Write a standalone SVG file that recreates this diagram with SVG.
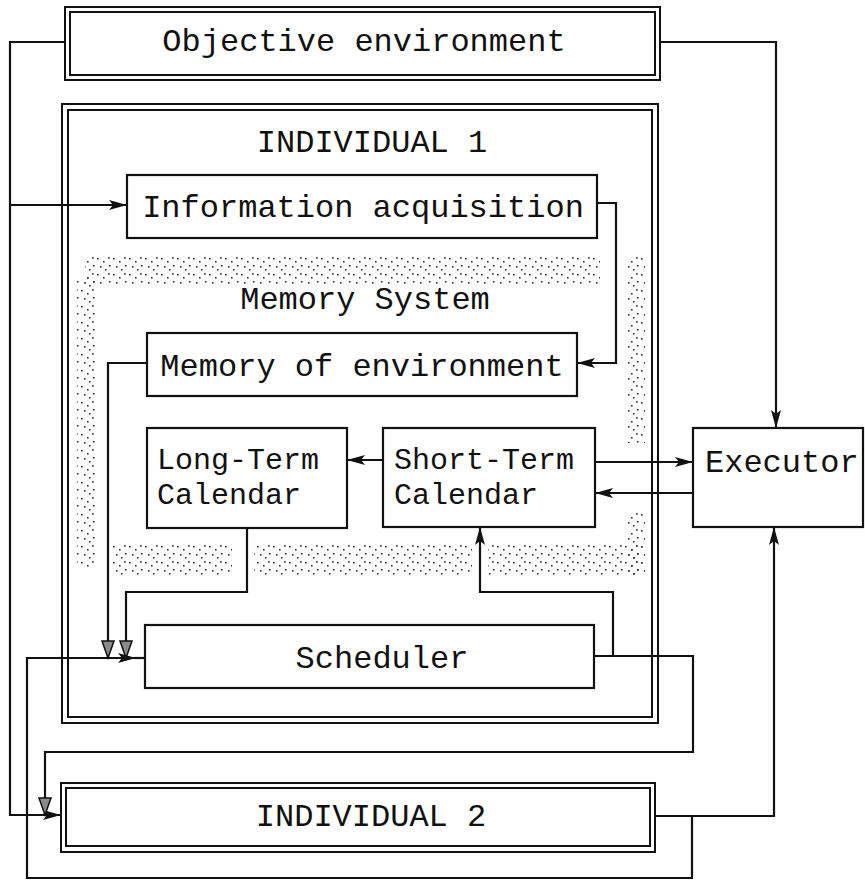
<svg xmlns="http://www.w3.org/2000/svg" width="865" height="881" viewBox="0 0 865 881">
<style>
  .box { fill: #fff; stroke: #111; stroke-width: 2.2; }
  .dbl { fill: none; stroke: #111; stroke-width: 2; }
  .lbl { font-family: "Liberation Mono", "Courier New", monospace; font-size: 32px; fill: #111; }
  .sm { font-size: 30px; }
  .c { text-anchor: middle; }
  .wire { fill: none; stroke: #111; stroke-width: 2.2; }
</style>
<defs>
  <marker id="ah" markerUnits="userSpaceOnUse" markerWidth="20" markerHeight="12" refX="18" refY="6" orient="auto">
    <path d="M0,1 L18,6 L0,11 L4,6 z" fill="#111"/>
  </marker>
  <marker id="ahh" markerUnits="userSpaceOnUse" markerWidth="20" markerHeight="14" refX="18" refY="7" orient="auto">
    <path d="M1,1 L18,7 L1,13 z" fill="#8a8a8a" stroke="#111" stroke-width="1.5"/>
  </marker>
  <pattern id="dots" width="16" height="16" patternUnits="userSpaceOnUse">
    <rect x="1" y="2" width="1.6" height="1.6" fill="#333"/>
    <rect x="7" y="5" width="1.6" height="1.6" fill="#333"/>
    <rect x="12" y="1" width="1.6" height="1.6" fill="#333"/>
    <rect x="4" y="10" width="1.6" height="1.6" fill="#333"/>
    <rect x="13" y="9" width="1.6" height="1.6" fill="#333"/>
    <rect x="9" y="13" width="1.6" height="1.6" fill="#333"/>
  </pattern>
</defs>

<g id="memory-system-region">
  <rect x="85" y="256" width="515" height="28" fill="url(#dots)"/>
  <rect x="77" y="276" width="20" height="291" fill="url(#dots)"/>
  <rect x="112" y="545" width="120" height="32" fill="url(#dots)"/>
  <rect x="254" y="545" width="218" height="32" fill="url(#dots)"/>
  <rect x="488" y="545" width="157" height="32" fill="url(#dots)"/>
  <rect x="627" y="255" width="18" height="188" fill="url(#dots)"/>
  <rect x="627" y="512" width="18" height="65" fill="url(#dots)"/>
  <text class="lbl c" x="365" y="309">Memory System</text>
</g>

<g id="objective-environment">
  <rect class="dbl" x="65" y="7" width="595" height="73"/>
  <rect class="dbl" x="70" y="12" width="585" height="63" fill="#fff"/>
  <text class="lbl c" x="364" y="51">Objective environment</text>
</g>

<g id="individual-1">
  <rect class="dbl" x="62" y="104" width="596" height="619"/>
  <rect class="dbl" x="68" y="110" width="584" height="607"/>
  <text class="lbl c" x="372" y="152">INDIVIDUAL 1</text>
</g>

<g id="information-acquisition">
  <rect class="box" x="127" y="175" width="470" height="63"/>
  <text class="lbl c" x="363" y="217">Information acquisition</text>
</g>

<g id="memory-of-environment">
  <rect class="box" x="147" y="333" width="430" height="63"/>
  <text class="lbl c" x="362" y="376">Memory of environment</text>
</g>

<g id="long-term-calendar">
  <rect class="box" x="147" y="428" width="200" height="100"/>
  <text class="lbl sm" x="157" y="469">Long-Term</text>
  <text class="lbl sm" x="157" y="504">Calendar</text>
</g>

<g id="short-term-calendar">
  <rect class="box" x="383" y="428" width="212" height="99"/>
  <text class="lbl sm" x="394" y="469">Short-Term</text>
  <text class="lbl sm" x="394" y="504">Calendar</text>
</g>

<g id="executor">
  <rect class="box" x="693" y="428" width="170" height="99"/>
  <text class="lbl" x="705" y="472">Executor</text>
</g>

<g id="scheduler">
  <rect class="box" x="145" y="625" width="449" height="63"/>
  <text class="lbl c" x="382" y="668">Scheduler</text>
</g>

<g id="individual-2">
  <rect class="dbl" x="61" y="783" width="594" height="69"/>
  <rect class="dbl" x="66" y="788" width="584" height="58"/>
  <text class="lbl c" x="371" y="826">INDIVIDUAL 2</text>
</g>

<g id="connectors">
  <path class="wire" d="M65,42 H10 V815 H61" marker-end="url(#ah)"/>
  <path class="wire" d="M10,205 H127" marker-end="url(#ah)"/>
  <path class="wire" d="M660,42 H776 V428" marker-end="url(#ah)"/>
  <path class="wire" d="M597,203 H616 V363 H577" marker-end="url(#ah)"/>
  <path class="wire" d="M147,363 H108 V658" marker-end="url(#ahh)"/>
  <path class="wire" d="M247,528 V592 H126 V658" marker-end="url(#ahh)"/>
  <path class="wire" d="M383,460 H347" marker-end="url(#ah)"/>
  <path class="wire" d="M595,462 H693" marker-end="url(#ah)"/>
  <path class="wire" d="M693,493 H595" marker-end="url(#ah)"/>
  <path class="wire" d="M594,656 H613 V592 H480 V527" marker-end="url(#ah)"/>
  <path class="wire" d="M613,656 H693 V752 H45 V815" marker-end="url(#ahh)"/>
  <path class="wire" d="M655,816 H774 V527" marker-end="url(#ah)"/>
  <path class="wire" d="M692,816 V878 H27 V658 H136" marker-end="url(#ah)"/>
  <path class="wire" d="M134,658 H145"/>
</g>
</svg>
